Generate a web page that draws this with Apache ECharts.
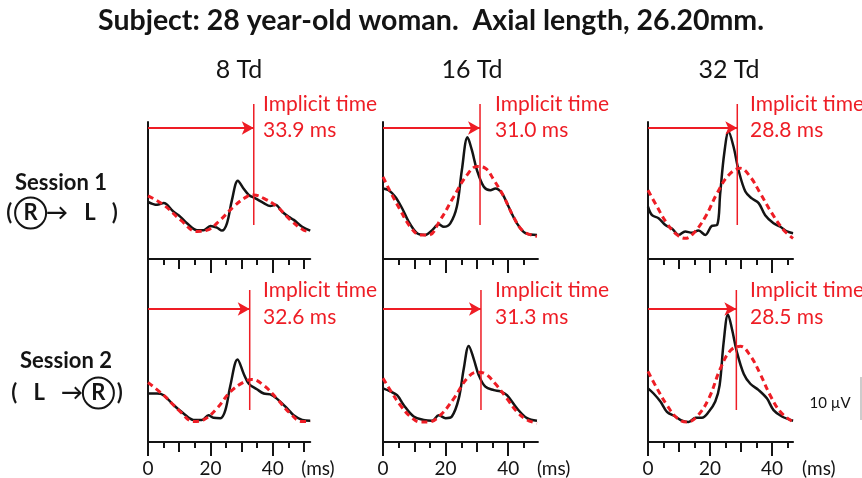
<!DOCTYPE html>
<html>
<head>
<meta charset="utf-8">
<title>Implicit time</title>
<script src="https://cdn.jsdelivr.net/npm/echarts@6/dist/echarts.min.js"></script>
<style>
  html, body { margin: 0; padding: 0; background: #fff; }
  #chart { width: 862px; height: 478px; }
</style>
</head>
<body>
<div id="chart"></div>
<script>
// stimulus columns and recording sessions
const columns = ['8 Td', '16 Td', '32 Td']
const implicitTimes = [
  [33.9, 31.0, 28.8], // session 1
  [32.6, 31.3, 28.5]  // session 2
]
const tickLabels = [0, 20, 40]

// responses, [ms, µV above baseline]
const s1_8td = [[0,13.3],[2.9,12.6],[5,13.0],[8.2,11.0],[10.4,9.8],[12.5,8.3],[15.7,6.7],[17.8,6.7],[20,7.7],[22.1,7.3],[23.7,6.6],[25.3,8.3],[26.9,13.7],[28.8,18.2],[30.6,16.4],[32.3,14.9],[34.4,14.1],[37.1,13.0],[39.2,12.3],[40.8,12.6],[43,11.0],[45.1,9.8],[46.7,9.1],[49.4,7.5],[52,6.6]]
const s1_8td_fit = [[0,14.7],[5,12.6],[10.4,9.1],[15.7,6.4],[19,6.7],[23.2,9.1],[27.5,12.2],[31.7,14.5],[33.9,14.9],[37.1,14.1],[41.3,12.2],[45.6,9.1],[49.9,6.7],[52,6.4]]
const s1_16td = [[0,16.4],[1.8,16.0],[3.9,14.5],[6.1,11.8],[8.2,8.7],[10.9,6.0],[13.5,5.6],[15.7,6.7],[17.8,8.1],[19.4,7.5],[21.5,8.3],[23.6,12.2],[25.2,20.7],[27.0,28.3],[28.4,25.3],[30.0,20.7],[32.2,16.8],[34.3,16.0],[35.9,16.4],[38.0,15.3],[40.1,12.2],[42.8,8.3],[45.5,6.0],[49.2,5.6]]
const s1_16td_fit = [[0,19.1],[2.3,15.7],[5.5,11.4],[8.7,7.5],[11.9,5.6],[14.6,5.6],[18.3,9.1],[22.6,14.5],[26.8,19.5],[30.0,21.5],[32.7,21.1],[35.4,18.4],[38.6,14.5],[41.7,9.8],[44.9,6.4],[49.2,5.3]]
const s1_32td = [[0,12.2],[1.3,10.2],[3.4,9.5],[5.6,7.9],[7.7,7.1],[9.9,5.6],[12.0,6.4],[14.2,6.1],[16.3,6.6],[18.5,5.6],[20.6,7.7],[22.3,7.9],[23.3,15.3],[24.6,24.6],[26.0,29.6],[27.6,26.1],[29.2,20.7],[31.4,15.7],[33.5,14.1],[35.7,13.0],[37.8,10.2],[40.5,8.3],[42.7,7.5],[44.8,6.4],[46.8,6.0]]
const s1_32td_fit = [[0,16.0],[2.9,12.2],[6.1,8.3],[9.4,5.6],[12.0,4.8],[14.7,6.0],[18.5,9.8],[22.3,15.3],[26.0,19.5],[29.8,21.1],[33.0,19.1],[36.2,15.3],[40.0,10.6],[43.8,6.7],[46.8,4.8]]

const s2_8td = [[0,11.4],[2.9,11.4],[5,11.0],[8.2,8.7],[11.4,6.7],[14.6,5.2],[17.3,5.2],[19.4,6.3],[21,5.7],[23.2,5.6],[24.8,7.5],[26.4,13.3],[28.7,19.4],[30.7,16.0],[32.3,13.7],[34.9,12.4],[37.1,11.4],[39.2,11.2],[41.3,10.2],[44.6,7.9],[46.7,6.3],[49.4,5.2],[52,5.0]]
const s2_8td_fit = [[0,14.0],[5,11.0],[10.4,7.1],[14.6,4.8],[17.8,5.2],[22.1,7.9],[26.4,11.8],[30.7,14.1],[33.3,14.7],[37.1,13.3],[41.3,10.2],[45.6,6.7],[49.4,4.8],[52,4.8]]
const s2_16td = [[0,12.6],[2.3,11.9],[4.5,11.0],[6.6,8.7],[9.8,6.0],[13.0,5.2],[15.7,5.0],[17.8,6.3],[20.0,5.6],[22.0,6.0],[24.2,10.2],[25.8,17.2],[27.4,22.6],[29.0,19.5],[30.6,15.7],[32.7,13.0],[35.4,12.2],[37.5,11.9],[39.6,11.0],[42.8,7.9],[46.0,5.6],[49.2,5.0]]
const s2_16td_fit = [[0,15.0],[2.3,12.2],[5.5,8.7],[8.7,6.0],[11.9,4.7],[14.6,4.7],[18.3,6.3],[22.6,10.2],[26.8,14.9],[30.0,16.4],[32.7,16.0],[35.9,13.7],[39.6,10.2],[42.8,7.1],[46.0,5.2],[49.2,4.4]]
const s2_32td = [[0,12.6],[1.8,11.4],[4.0,9.5],[6.1,7.1],[8.8,6.0],[11.0,5.0],[13.1,4.7],[15.3,5.7],[17.4,5.7],[19.6,7.1],[21.7,9.5],[23.1,13.3],[24.4,23.4],[25.8,30.0],[27.1,26.5],[28.7,21.1],[30.9,16.0],[33.0,13.7],[35.7,12.2],[38.4,10.2],[40.5,7.5],[43.2,6.0],[46.8,5.0]]
const s2_32td_fit = [[0,16.6],[2.9,12.6],[6.1,8.7],[9.4,5.6],[12.6,4.7],[15.8,6.0],[19.6,10.2],[23.3,17.2],[26.6,21.5],[29.8,22.5],[33.0,20.3],[36.2,16.0],[39.4,11.0],[42.7,7.1],[46.8,4.7]]

const responses = [[s1_8td, s1_16td, s1_32td], [s2_8td, s2_16td, s2_32td]]
const fits = [[s1_8td_fit, s1_16td_fit, s1_32td_fit], [s2_8td_fit, s2_16td_fit, s2_32td_fit]]

// layout (px)
const FONT = 'Lato'
const RED = '#ee1d25'
const INK = '#141414'
const PX_PER_UV = 4.3
const colLeft = [148, 383, 648]
const colMax = [52, 49.5, 46.8]   // ms at the end of each time axis
const pxPerMs = [3.12, 3.13, 3.1]
const colLabelX = [263, 495, 750]
const colNameGap = [-9, -1, 9]
const rowTop = [122, 260]
const rowBottom = [259, 444]
const ANNOT_H = 165
const lineSpan = [[34, 155], [34, 154]]  // red marker, px above the axis
const arrowAt = [131, 135]
const labelY = [[104, 130], [290, 317]]

const grid = []
const xAxis = []
const yAxis = []
const series = []
const graphic = []

function ticksUpTo(list, max) {
  return list.filter(v => v <= max)
}

for (let r = 0; r < 2; r++) {
  for (let c = 0; c < 3; c++) {
    const width = colMax[c] * pxPerMs[c]
    const h = rowBottom[r] - rowTop[r]
    const g = grid.length
    grid.push({ left: colLeft[c], top: rowTop[r], width: width, height: h })
    grid.push({ left: colLeft[c], top: rowBottom[r] - ANNOT_H, width: width, height: ANNOT_H })

    const base = { type: 'value', min: 0, max: colMax[c], position: 'bottom',
      splitLine: { show: false }, axisLabel: { show: false }, axisLine: { show: false } }
    const xi = xAxis.length
    xAxis.push(Object.assign({}, base, {
      gridIndex: g,
      axisLine: { show: true, onZero: false, lineStyle: { color: INK, width: 2 } },
      axisTick: { show: true, customValues: ticksUpTo([5, 15, 25, 35, 45], colMax[c]), length: 6, lineStyle: { color: INK, width: 2 } }
    }))
    xAxis.push(Object.assign({}, base, {
      gridIndex: g,
      axisTick: { show: true, customValues: ticksUpTo([10, 30, 50], colMax[c]), length: 10, lineStyle: { color: INK, width: 2 } }
    }))
    xAxis.push(Object.assign({}, base, {
      gridIndex: g,
      axisTick: { show: true, customValues: tickLabels, length: 14, lineStyle: { color: INK, width: 2 } },
      axisLabel: { show: r === 1, customValues: tickLabels, margin: 17, fontSize: 19, fontFamily: FONT, color: INK },
      name: r === 1 ? '(ms)' : '',
      nameLocation: 'end',
      nameGap: colNameGap[c],
      nameTextStyle: { fontSize: 19, fontFamily: FONT, color: INK, align: 'left', verticalAlign: 'top', padding: [17, 0, 0, 0] }
    }))
    xAxis.push(Object.assign({}, base, { gridIndex: g + 1, show: false }))

    const yi = yAxis.length
    yAxis.push({
      gridIndex: g, type: 'value', min: 0, max: h / PX_PER_UV,
      axisLine: { show: true, onZero: false, lineStyle: { color: INK, width: 2 } },
      axisTick: { show: false }, axisLabel: { show: false }, splitLine: { show: false }
    })
    yAxis.push({ gridIndex: g + 1, type: 'value', min: 0, max: ANNOT_H / PX_PER_UV, show: false })

    series.push({
      type: 'line', xAxisIndex: xi + 3, yAxisIndex: yi + 1,
      data: [[implicitTimes[r][c], lineSpan[r][0] / PX_PER_UV], [implicitTimes[r][c], lineSpan[r][1] / PX_PER_UV]],
      showSymbol: false, silent: true, animation: false,
      lineStyle: { color: RED, width: 1.5 },
      markLine: {
        silent: true, animation: false,
        symbol: ['none', 'arrow'], symbolSize: [10, 12],
        label: { show: false },
        lineStyle: { color: RED, width: 2, type: 'solid' },
        data: [[{ coord: [0, arrowAt[r] / PX_PER_UV] }, { coord: [implicitTimes[r][c], arrowAt[r] / PX_PER_UV] }]]
      }
    })
    series.push({
      type: 'line', xAxisIndex: xi, yAxisIndex: yi, data: fits[r][c],
      smooth: 0.4, showSymbol: false, animation: false, z: 3,
      lineStyle: { color: RED, width: 3, type: [6, 4] }
    })
    series.push({
      type: 'line', xAxisIndex: xi, yAxisIndex: yi, data: responses[r][c],
      smooth: 0.35, showSymbol: false, animation: false, z: 2,
      lineStyle: { color: INK, width: 2.5 }
    })

    graphic.push({ type: 'text', x: colLabelX[c], y: labelY[r][0],
      style: { text: 'Implicit time', fill: RED, fontSize: 21, fontFamily: FONT, align: 'left', verticalAlign: 'middle' } })
    graphic.push({ type: 'text', x: colLabelX[c], y: labelY[r][1],
      style: { text: implicitTimes[r][c].toFixed(1) + ' ms', fill: RED, fontSize: 21, fontFamily: FONT, align: 'left', verticalAlign: 'middle' } })
  }
}

const colTitleX = [239, 472, 729]
columns.forEach((name, c) => {
  graphic.push({ type: 'text', x: colTitleX[c], y: 70,
    style: { text: name, fill: INK, fontSize: 25, fontFamily: FONT, align: 'center', verticalAlign: 'middle' } })
})

const circled = { width: 31, height: 31, lineHeight: 31, align: 'center', verticalAlign: 'middle',
  borderColor: INK, borderWidth: 2, borderRadius: 17, fontSize: 22, fontWeight: 'bold', fontFamily: FONT, fill: INK }
const sessionStyle = { fill: INK, fontSize: 22, fontWeight: 'bold', fontFamily: FONT, align: 'center', verticalAlign: 'middle' }
graphic.push({ type: 'text', x: 61, y: 183, style: Object.assign({ text: 'Session 1' }, sessionStyle) })
graphic.push({ type: 'text', x: 62, y: 213, style: Object.assign({ text: '(\u2009{c|R}\u2192   L   )', rich: { c: circled } }, sessionStyle) })
graphic.push({ type: 'text', x: 66, y: 361, style: Object.assign({ text: 'Session 2' }, sessionStyle) })
graphic.push({ type: 'text', x: 67, y: 393, style: Object.assign({ text: '(   L   \u2192{c|R}\u2009)', rich: { c: circled } }, sessionStyle) })

// 10 µV scale bar
graphic.push({ type: 'line', shape: { x1: 861, y1: 377, x2: 861, y2: 377 + 10 * PX_PER_UV }, style: { stroke: '#999', lineWidth: 1 } })
graphic.push({ type: 'text', x: 830, y: 403, style: { text: '10 \u00b5V', fill: INK, fontSize: 15, fontFamily: FONT, align: 'center', verticalAlign: 'middle' } })

const chart = echarts.init(document.getElementById('chart'))
chart.setOption({
  backgroundColor: '#fff',
  animation: false,
  title: {
    text: 'Subject: 28 year-old woman.  Axial length, 26.20mm.',
    left: 'center', top: 6, padding: 0,
    textStyle: { fontSize: 28.5, fontWeight: 'bold', fontFamily: FONT, color: INK }
  },
  grid: grid,
  xAxis: xAxis,
  yAxis: yAxis,
  series: series,
  graphic: graphic
})
</script>
</body>
</html>
